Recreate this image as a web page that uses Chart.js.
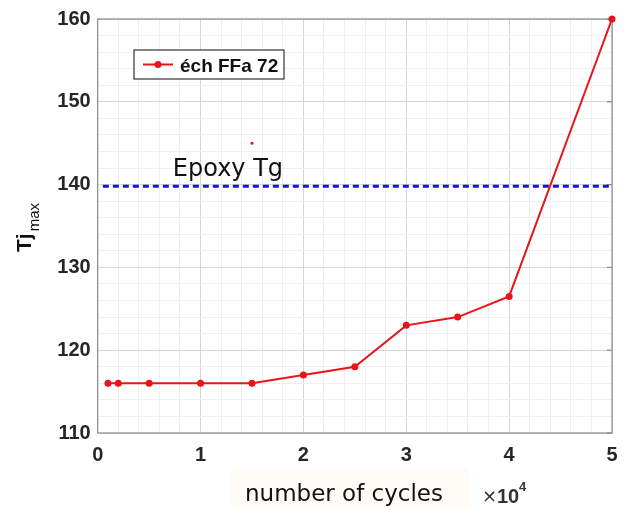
<!DOCTYPE html>
<html>
<head>
<meta charset="utf-8">
<script src="https://cdn.jsdelivr.net/npm/chart.js@4.4.1/dist/chart.umd.min.js"></script>
<style>
  html, body { margin: 0; padding: 0; background: #fff; }
  #wrap { width: 628px; height: 507px; position: relative; }
</style>
</head>
<body>
<div id="wrap"><canvas id="chart"></canvas></div>
<script>
// number of cycles (x 10^4) and Tj max
var cycles = [0.1, 0.2, 0.5, 1, 1.5, 2, 2.5, 3, 3.5, 4, 5];
var tjMax = [116, 116, 116, 116, 116, 117, 118, 123, 124, 126.5, 160];
var seriesName = 'éch FFa 72';

// epoxy glass transition line
var tgValue = 139.8;
var tgSpan = [0.05, 4.98];
var tgLabel = 'Epoxy Tg';

// the lone red dot above the Tg label
var strayX = [1.5];
var strayY = [145];

var xTicks = [0, 1, 2, 3, 4, 5];
var yTicks = [110, 120, 130, 140, 150, 160];

var RED = '#e8141c';
var BLUE = '#1414dc';

var mainPts = cycles.map(function (c, i) { return { x: c, y: tjMax[i] }; });
var tgPts = tgSpan.map(function (x) { return { x: x, y: tgValue }; });
var strayPts = strayX.map(function (x, i) { return { x: x, y: strayY[i] }; });

// frame, legend, labels
var decor = {
    id: 'decor',
    beforeDatasetsDraw: function (chart) {
        var ctx = chart.ctx, a = chart.chartArea;
        ctx.save();
        ctx.strokeStyle = '#8a8a8a';
        ctx.lineWidth = 1.2;
        ctx.strokeRect(a.left, a.top, a.right - a.left, a.bottom - a.top);
        // small inward ticks on the right edge
        var ys = chart.scales.y;
        yTicks.forEach(function (v) {
            var p = ys.getPixelForValue(v);
            ctx.beginPath(); ctx.moveTo(a.right, p); ctx.lineTo(a.right - 5, p); ctx.stroke();
        });
        ctx.restore();
    },
    afterDraw: function (chart) {
        var ctx = chart.ctx, xs = chart.scales.x, ys = chart.scales.y;
        ctx.save();

        // legend box
        ctx.fillStyle = '#fff';
        ctx.fillRect(134, 50, 150, 29);
        ctx.strokeStyle = '#333';
        ctx.lineWidth = 1.2;
        ctx.strokeRect(134, 50, 150, 29);
        ctx.strokeStyle = RED;
        ctx.lineWidth = 2;
        ctx.beginPath(); ctx.moveTo(143, 64.5); ctx.lineTo(173, 64.5); ctx.stroke();
        ctx.fillStyle = RED;
        ctx.beginPath(); ctx.arc(158, 64.5, 3.5, 0, Math.PI * 2); ctx.fill();
        ctx.fillStyle = '#111';
        ctx.font = 'bold 19px "Liberation Sans", Arial, sans-serif';
        ctx.textBaseline = 'alphabetic';
        ctx.textAlign = 'left';
        ctx.fillText(seriesName, 180, 72);

        // Epoxy Tg text
        ctx.font = '24px "DejaVu Sans", sans-serif';
        ctx.fillStyle = '#111';
        ctx.fillText(tgLabel, xs.getPixelForValue(0.73), ys.getPixelForValue(tgValue) - 10);

        // x title with its light patch
        ctx.fillStyle = '#fffcf8';
        ctx.fillRect(231, 467, 238, 40);
        ctx.fillStyle = '#111';
        ctx.font = '23px "DejaVu Sans", sans-serif';
        ctx.fillText('number of cycles', 245, 501);

        // x10^4
        ctx.fillStyle = '#333';
        ctx.font = '18px "DejaVu Sans", sans-serif';
        ctx.fillText('×', 482, 502);
        ctx.font = 'bold 20px "Liberation Sans", Arial, sans-serif';
        ctx.fillText('10', 497, 503);
        ctx.font = 'bold 13px "Liberation Sans", Arial, sans-serif';
        ctx.fillText('4', 519, 491);

        // y title Tj_max
        ctx.translate(31, 252);
        ctx.rotate(-Math.PI / 2);
        ctx.fillStyle = '#111';
        ctx.font = 'bold 21px "Liberation Sans", Arial, sans-serif';
        ctx.fillText('Tj', 0, 0);
        var w = ctx.measureText('Tj').width;
        ctx.font = '15px "Liberation Sans", Arial, sans-serif';
        ctx.fillText('max', w + 2, 8);

        ctx.restore();
    }
};

new Chart(document.getElementById('chart'), {
    type: 'scatter',
    data: {
        datasets: [
            {
                label: seriesName,
                data: mainPts,
                showLine: true,
                clip: false,
                borderColor: RED,
                backgroundColor: RED,
                borderWidth: 2,
                pointRadius: 3.5,
                pointBorderWidth: 0,
                order: 1
            },
            {
                label: tgLabel,
                data: tgPts,
                showLine: true,
                borderColor: BLUE,
                borderWidth: 3,
                borderDash: [6, 4],
                pointRadius: 0,
                order: 2
            },
            {
                label: 'dot',
                data: strayPts,
                backgroundColor: RED,
                pointRadius: 1.5,
                pointBorderWidth: 0,
                order: 0
            }
        ]
    },
    options: {
        responsive: true,
        maintainAspectRatio: false,
        animation: false,
        layout: { padding: { left: 0, top: 16.5, right: 16, bottom: 0 } },
        plugins: { legend: { display: false }, tooltip: { enabled: false } },
        scales: {
            x: {
                type: 'linear',
                min: 0, max: 5,
                afterFit: function (s) { s.height = 74; },
                afterBuildTicks: function (s) {
                    var t = [];
                    for (var i = 0; i <= 25; i++) t.push({ value: i / 5 });
                    s.ticks = t;
                },
                ticks: {
                    autoSkip: false, maxRotation: 0, padding: 10,
                    color: '#262626',
                    font: { family: '"Liberation Sans", Arial, sans-serif', size: 20, weight: 'bold' },
                    callback: function (v) { return xTicks.indexOf(Math.round(v * 100) / 100) >= 0 ? String(Math.round(v)) : ''; }
                },
                grid: {
                    drawTicks: false,
                    color: function (c) { return Math.abs(c.tick.value - Math.round(c.tick.value)) < 1e-6 ? '#d6d6d6' : '#efefef'; }
                },
                border: { display: false }
            },
            y: {
                min: 110, max: 160,
                afterFit: function (s) { s.width = 97.7; },
                afterBuildTicks: function (s) {
                    var t = [];
                    for (var v = 110; v <= 160; v += 2) t.push({ value: v });
                    s.ticks = t;
                },
                ticks: {
                    autoSkip: false, padding: 7,
                    color: '#262626',
                    font: { family: '"Liberation Sans", Arial, sans-serif', size: 20, weight: 'bold' },
                    callback: function (v) { return yTicks.indexOf(v) >= 0 ? String(v) : ''; }
                },
                grid: {
                    drawTicks: false,
                    color: function (c) { return c.tick.value % 10 === 0 ? '#d6d6d6' : '#efefef'; }
                },
                border: { display: false }
            }
        }
    },
    plugins: [decor]
});
</script>
</body>
</html>
